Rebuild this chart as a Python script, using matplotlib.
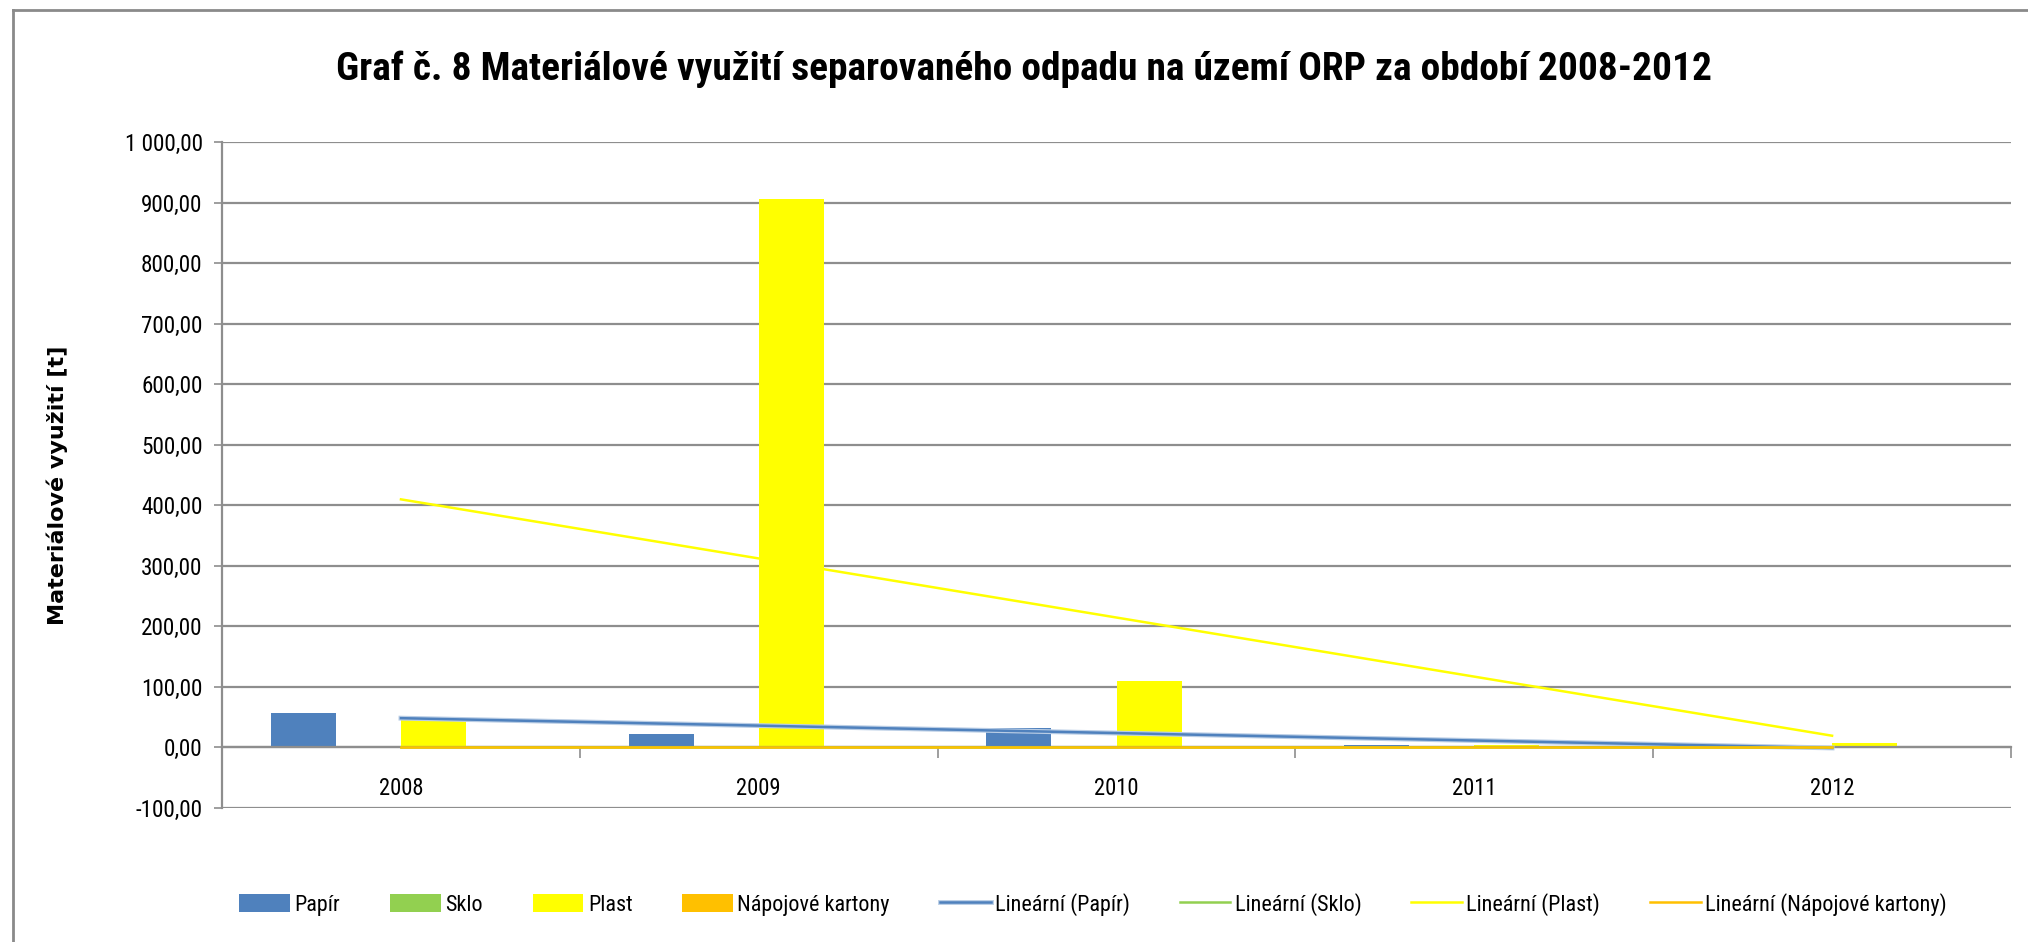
import numpy as np
import matplotlib
matplotlib.use("Agg")
import matplotlib.pyplot as plt
from matplotlib import font_manager
from matplotlib.ticker import FuncFormatter
import matplotlib.patheffects as pe

# data (tonnes)
years = ["2008", "2009", "2010", "2011", "2012"]
papir = [56.5, 22.0, 32.0, 4.0, 4.0]
sklo = [0.0, 0.0, 0.0, 0.0, 0.0]
plast = [45.5, 905.0, 110.0, 4.0, 8.0]
kartony = [0.0, 0.0, 0.0, 0.0, 0.0]

series_names = ["Papír", "Sklo", "Plast", "Nápojové kartony"]
colors = ["#4F81BD", "#92D050", "#FFFF00", "#FFC000"]

title = "Graf č. 8 Materiálové využití separovaného odpadu na území ORP za období 2008-2012"
ylabel = "Materiálové využití [t]"

# narrow face for title / ticks / legend
installed = {f.name for f in font_manager.fontManager.ttflist}
narrow = "Liberation Sans"
for cand in ["Roboto Condensed", "Archivo Narrow", "Liberation Sans Narrow", "Carlito"]:
    if cand in installed:
        narrow = cand
        break

fig = plt.figure(figsize=(20.28, 9.42), dpi=100)
renderer = fig.canvas.get_renderer()


def fit_size(s, width_px, family, weight="normal"):
    # font size giving the text the wanted pixel width
    t = fig.text(0, 0, s, fontsize=10, family=family, fontweight=weight)
    w = t.get_window_extent(renderer).width
    t.remove()
    return 10 * width_px / w


title_fs = fit_size(title, 1376, narrow, "bold")
ytick_fs = fit_size("900,00", 61, narrow)
xtick_fs = fit_size("2008", 44, narrow)
leg_fs = fit_size("Lineární (Nápojové kartony)", 240, narrow)

ax = fig.add_axes([0.1095, 0.1423, 0.8821, 0.7070])

x = np.arange(1, len(years) + 1)
w = 1 / 5.5
data = [papir, sklo, plast, kartony]
for i, (vals, name, c) in enumerate(zip(data, series_names, colors)):
    ax.bar(x + (i - 1.5) * w, vals, width=w, color=c, label=name, zorder=2)

# linear trend lines over the category centres
trend_handles = []
for vals, name, c in zip(data, series_names, colors):
    k, q = np.polyfit(x, vals, 1)
    xs = np.array([x[0], x[-1]])
    eff = [pe.withStroke(linewidth=3.5, foreground="#B9CDE5")] if name == "Papír" else None
    ln, = ax.plot(xs, k * xs + q, color=c, lw=1.8, label="Lineární (%s)" % name,
                  zorder=3, path_effects=eff)
    trend_handles.append(ln)

ax.set_xlim(0.5, len(years) + 0.5)
ax.set_ylim(-100, 1000)
ax.set_yticks(np.arange(-100, 1001, 100))


def cz_fmt(v, pos):
    return "{:,.2f}".format(v).replace(",", " ").replace(".", ",")


ax.yaxis.set_major_formatter(FuncFormatter(cz_fmt))
ax.yaxis.grid(True, color="#8E8E8E", lw=1.6, zorder=0)
ax.set_axisbelow(True)

# category ticks between groups, labels at centres
ax.set_xticks(np.arange(0.5, len(years) + 1, 1.0))
ax.set_xticklabels([])
ax.set_xticks(x, minor=True)
ax.set_xticklabels(years, minor=True)
ax.tick_params(axis="x", which="major", length=8, width=1.2, color="#8E8E8E", direction="out")
ax.tick_params(axis="x", which="minor", length=0, pad=21, labelsize=xtick_fs,
               labelfontfamily=narrow)
ax.tick_params(axis="y", length=6, width=1.2, color="#8E8E8E", labelsize=ytick_fs, pad=8,
               labelfontfamily=narrow)

for s in ["top", "right"]:
    ax.spines[s].set_visible(False)
ax.spines["bottom"].set_position(("data", 0))
ax.spines["bottom"].set_color("#8E8E8E")
ax.spines["bottom"].set_linewidth(1.6)
ax.spines["left"].set_color("#8E8E8E")
ax.spines["left"].set_linewidth(1.6)

fig.text(0.505, 0.926, title, ha="center", va="center", fontsize=title_fs,
         fontweight="bold", family=narrow)
fig.text(0.028, 0.485, ylabel, ha="center", va="center", rotation=90,
         fontsize=16, fontweight="bold")

# chart area border (left and top edges)
fig.add_artist(plt.Line2D([0.0064, 0.0064], [0.0, 0.989], transform=fig.transFigure,
                          color="#8A8A8A", lw=2))
fig.add_artist(plt.Line2D([0.0064, 1.0], [0.989, 0.989], transform=fig.transFigure,
                          color="#8A8A8A", lw=2))

handles, labels = ax.get_legend_handles_labels()
bar_h = [h for h, l in zip(handles, labels) if not l.startswith("Lineární")]
bar_l = [l for l in labels if not l.startswith("Lineární")]
fig.legend(bar_h + trend_handles, bar_l + [h.get_label() for h in trend_handles],
           loc="center", bbox_to_anchor=(0.539, 0.04), ncol=8, frameon=False,
           prop={"family": narrow, "size": leg_fs}, handlelength=2.3,
           handleheight=0.9, handletextpad=0.2, columnspacing=2.25)

fig.savefig("out.png", dpi=100)
